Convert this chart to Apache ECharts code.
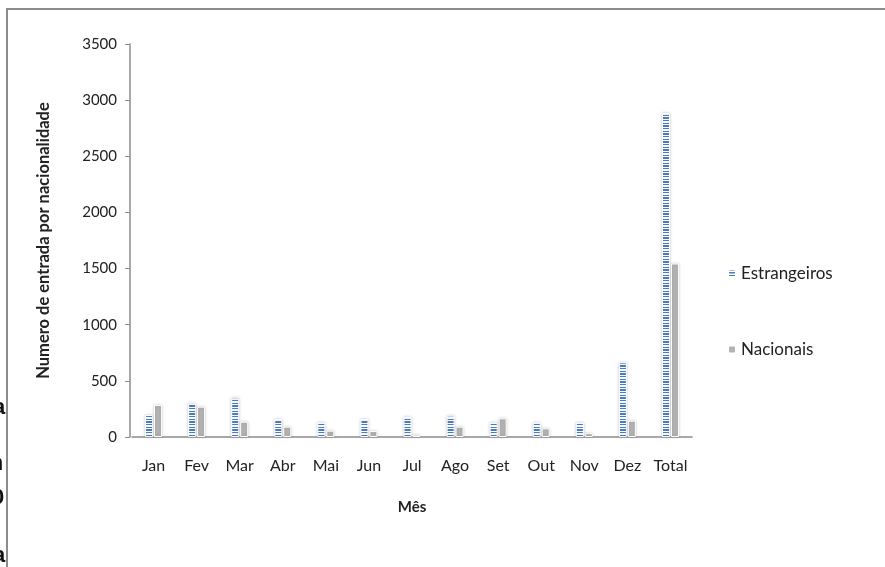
<!DOCTYPE html>
<html>
<head>
<meta charset="utf-8">
<script src="https://cdn.jsdelivr.net/npm/echarts@6/dist/echarts.min.js"></script>
<style>
  html, body { margin: 0; padding: 0; background: #ffffff; }
  #chart { width: 885px; height: 567px; }
</style>
</head>
<body>
<div id="chart"></div>
<script>
// Monthly entries by nationality
const months = ['Jan', 'Fev', 'Mar', 'Abr', 'Mai', 'Jun', 'Jul', 'Ago', 'Set', 'Out', 'Nov', 'Dez', 'Total'];
const estrangeiros = [195, 300, 350, 160, 130, 160, 180, 190, 130, 130, 127, 665, 2885];
const nacionais = [285, 270, 136, 92, 56, 53, 21, 92, 166, 77, 33, 145, 1545];
const yTicks = { min: 0, max: 3500, step: 500 };

// Horizontal dashed fill for the foreign-visitor bars
function stripePattern() {
  const c = document.createElement('canvas');
  c.width = 8; c.height = 8;
  const g = c.getContext('2d');
  g.fillStyle = '#ffffff';
  g.fillRect(0, 0, 8, 8);
  g.fillStyle = '#4a7dc2';
  g.fillRect(0, 0, 8, 4);
  return { image: c, repeat: 'repeat', scaleX: 1, scaleY: 1 / 3 };
}

const FONT = 'Lato, "Open Sans", sans-serif';
const PAGE_FONT = 'Liberation Sans, Arial, sans-serif';
const chart = echarts.init(document.getElementById('chart'), null, { renderer: 'canvas' });

function pageText(t, x, y, weight) {
  return {
    type: 'text', z: 100, x: x, y: y,
    style: { text: t, fontSize: 22, fontWeight: weight, fontFamily: PAGE_FONT, fill: '#111' }
  };
}

chart.setOption({
  backgroundColor: '#ffffff',
  animation: false,
  grid: { left: 132, right: 193, top: 44, bottom: 130, containLabel: false },
  legend: {
    orient: 'vertical',
    left: 722,
    top: 260,
    itemWidth: 8,
    itemHeight: 8,
    itemGap: 59,
    textStyle: { fontFamily: FONT, fontSize: 17, color: '#222' },
    data: ['Estrangeiros', 'Nacionais']
  },
  xAxis: {
    type: 'category',
    data: months,
    name: 'Mês',
    nameLocation: 'middle',
    nameGap: 63,
    nameTextStyle: { fontFamily: FONT, fontSize: 15, fontWeight: 'bold', color: '#222' },
    axisLine: { lineStyle: { color: '#8c8c8c', width: 1.5 } },
    axisTick: { show: false },
    axisLabel: { fontFamily: FONT, fontSize: 16, color: '#222', margin: 21, interval: 0 }
  },
  yAxis: {
    type: 'value',
    min: yTicks.min,
    max: yTicks.max,
    interval: yTicks.step,
    offset: 2,
    name: 'Numero de entrada por nacionalidade',
    nameLocation: 'middle',
    nameGap: 78,
    nameRotate: 90,
    nameTextStyle: { fontFamily: FONT, fontSize: 16.5, fontWeight: 'bold', color: '#222' },
    axisLine: { show: true, lineStyle: { color: '#8c8c8c', width: 1.5 } },
    axisTick: { show: true, inside: false, length: 5, lineStyle: { color: '#8c8c8c' } },
    splitLine: { show: false },
    axisLabel: {
      fontFamily: FONT, fontSize: 15, color: '#222', margin: 13,
      formatter: (v) => String(v)
    }
  },
  series: [
    {
      name: 'Estrangeiros',
      type: 'bar',
      data: estrangeiros,
      barWidth: 8,
      barGap: '12%',
      itemStyle: {
        color: stripePattern(),
        borderColor: '#ffffff',
        borderWidth: 1,
        shadowColor: 'rgba(0,0,0,0.2)',
        shadowBlur: 3
      }
    },
    {
      name: 'Nacionais',
      type: 'bar',
      data: nacionais,
      barWidth: 8,
      itemStyle: {
        color: '#b3b3b3',
        borderColor: '#ffffff',
        borderWidth: 1,
        shadowColor: 'rgba(0,0,0,0.2)',
        shadowBlur: 3
      }
    }
  ],
  graphic: [
    // frame around the chart
    { type: 'rect', z: 100, shape: { x: 7, y: 9, width: 900, height: 600 },
      style: { fill: 'none', stroke: '#8c8c8c', lineWidth: 2 } },
    // edges of the surrounding page text
    pageText('a', -7, 397, 'bold'),
    pageText('n', -9, 453, 'normal'),
    pageText('0', -8, 487, 'bold'),
    pageText('a', -7, 545, 'bold')
  ]
});
</script>
</body>
</html>
